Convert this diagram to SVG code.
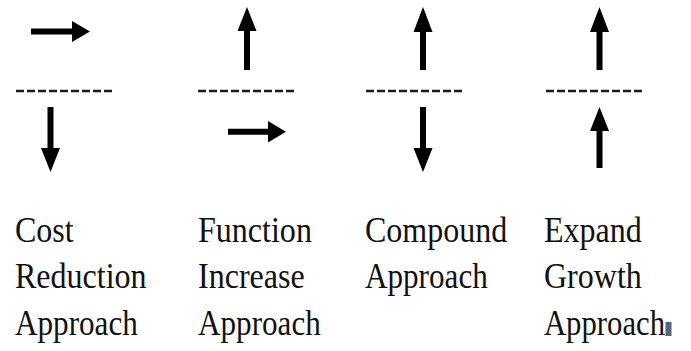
<svg xmlns="http://www.w3.org/2000/svg" width="691" height="351" viewBox="0 0 691 351">
<style>
.arr{fill:#000;stroke:none}
.dash{stroke:#1a1a1a;stroke-width:2.5;stroke-dasharray:8 3;fill:none}
.lbl{font-family:"Liberation Serif","Times New Roman",serif;font-size:36px;fill:#111}
</style>
<rect width="691" height="351" fill="#fff"/>
<g id="connectors">
<line class="dash" x1="16" y1="91" x2="112" y2="91"/>
<line class="dash" x1="198" y1="91" x2="294" y2="91"/>
<line class="dash" x1="366" y1="91" x2="462" y2="91"/>
<line class="dash" x1="546" y1="91" x2="642" y2="91"/>
</g>
<g id="cost-reduction">
<polygon class="arr" points="31,28.5 72,28.5 72,21 90,31.5 72,42 72,34.5 31,34.5"/>
<polygon class="arr" points="47.5,107 53.5,107 53.5,148 60,148 50.5,172 41,148 47.5,148"/>
<g transform="scale(0.89 1)">
<text class="lbl" x="16.85" y="242">Cost</text>
<text class="lbl" x="16.85" y="288.5">Reduction</text>
<text class="lbl" x="16.85" y="335" textLength="138" lengthAdjust="spacingAndGlyphs">Approach</text>
</g>
</g>
<g id="function-increase">
<polygon class="arr" points="244,70 250,70 250,31 256.5,31 247,7 237.5,31 244,31"/>
<polygon class="arr" points="228,128.7 268,128.7 268,121 286,131.7 268,142.4 268,134.7 228,134.7"/>
<g transform="scale(0.89 1)">
<text class="lbl" x="222.5" y="242">Function</text>
<text class="lbl" x="222.5" y="288.5">Increase</text>
<text class="lbl" x="222.5" y="335" textLength="138" lengthAdjust="spacingAndGlyphs">Approach</text>
</g>
</g>
<g id="compound">
<polygon class="arr" points="420,70 426,70 426,32 432.5,32 423,7 413.5,32 420,32"/>
<polygon class="arr" points="420,107 426,107 426,148 432.5,148 423,172 413.5,148 420,148"/>
<g transform="scale(0.89 1)">
<text class="lbl" x="410.1" y="242">Compound</text>
<text class="lbl" x="410.1" y="288.5" textLength="138" lengthAdjust="spacingAndGlyphs">Approach</text>
</g>
</g>
<g id="expand-growth">
<polygon class="arr" points="596.5,70 602.5,70 602.5,32 609,32 599.5,7 590,32 596.5,32"/>
<polygon class="arr" points="596.5,168 602.5,168 602.5,131 609,131 599.5,107 590,131 596.5,131"/>
<g transform="scale(0.89 1)">
<text class="lbl" x="611.2" y="242">Expand</text>
<text class="lbl" x="611.2" y="288.5">Growth</text>
<text class="lbl" x="611.2" y="335" textLength="136" lengthAdjust="spacingAndGlyphs">Approach</text>
</g>
<rect x="665.5" y="322" width="6" height="14" fill="#56657a"/>
</g>
</svg>
